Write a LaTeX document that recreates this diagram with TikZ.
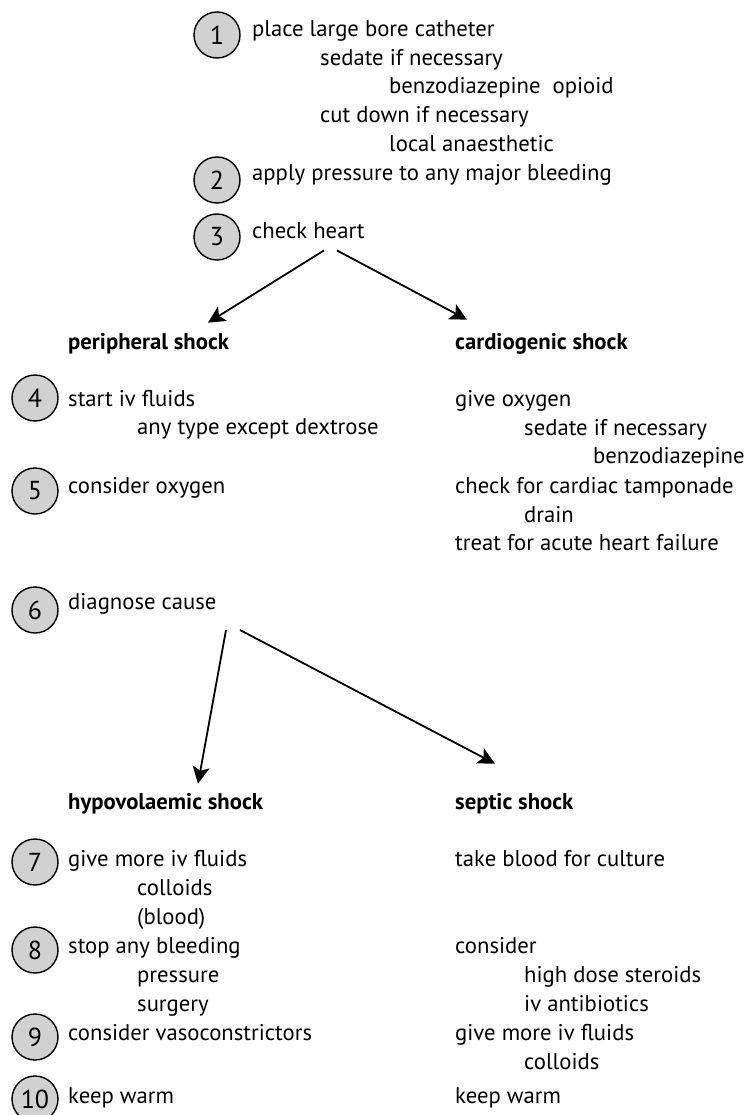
\documentclass[tikz,border=0pt]{standalone}
\usepackage{fontspec}
\setmainfont{PT Sans}
\usetikzlibrary{arrows.meta}

\begin{document}
\begin{tikzpicture}[x=1pt,y=-1pt,font=\fontsize{22.7}{28.8}\selectfont]
\useasboundingbox (0,0) rectangle (747,1115);

\begin{scope}[every node/.style={circle,draw=black,line width=1.4pt,fill=black!18,minimum size=46pt,inner sep=0pt,font=\fontsize{26}{28}\selectfont}]
    \node (n1) at (217, 35) {1};
    \node (n2) at (217, 180) {2};
    \node (n3) at (217, 237) {3};
    \node (n4) at (35, 398) {4};
    \node (n5) at (35, 491) {5};
    \node (n6) at (35, 610) {6};
    \node (n7) at (35, 862) {7};
    \node (n8) at (35, 950) {8};
    \node (n9) at (35, 1037) {9};
    \node (n10) at (35, 1099) {10};
\end{scope}

% steps
\begin{scope}[every node/.style={anchor=base west,inner sep=0pt}]
    \node (place) at (252, 37) {place large bore catheter};
    \node (sed) at (320, 66) {sedate if necessary};
    \node (benz) at (389, 94) {benzodiazepine~~opioid};
    \node (cut) at (320, 123) {cut down if necessary};
    \node (local) at (389, 152) {local anaesthetic};
    \node (press) at (252, 181) {apply pressure to any major bleeding};
    \node (chk) at (252, 238) {check heart};

    \node (ivf) at (68, 406) {start iv fluids};
    \node (anyt) at (137, 434) {any type except dextrose};
    \node (oxy) at (68, 493) {consider oxygen};
    \node (diag) at (68, 609) {diagnose cause};

    \node (giveox) at (455, 406) {give oxygen};
    \node (sedc) at (524, 435) {sedate if necessary};
    \node (benzc) at (593, 463) {benzodiazepine};
    \node (tamp) at (455, 493) {check for cardiac tamponade};
    \node (drain) at (524, 522) {drain};
    \node (ahf) at (455, 550) {treat for acute heart failure};

    \node (morefl) at (68, 866) {give more iv fluids};
    \node (coll) at (137, 895) {colloids};
    \node (blood) at (137, 924) {(blood)};
    \node (stop) at (68, 953) {stop any bleeding};
    \node (presh) at (137, 982) {pressure};
    \node (surg) at (137, 1011) {surgery};
    \node (vaso) at (68, 1040) {consider vasoconstrictors};
    \node (warmh) at (68, 1103) {keep warm};

    \node (cult) at (455, 866) {take blood for culture};
    \node (cons) at (455, 953) {consider};
    \node (ster) at (524, 982) {high dose steroids};
    \node (anti) at (524, 1011) {iv antibiotics};
    \node (morefs) at (455, 1040) {give more iv fluids};
    \node (colls) at (524, 1069) {colloids};
    \node (warms) at (455, 1103) {keep warm};
\end{scope}

% kinds of shock
\begin{scope}[every node/.style={anchor=base west,inner sep=0pt,font=\fontsize{22.7}{28.8}\selectfont\bfseries}]
    \node (peri) at (68, 349) {peripheral shock};
    \node (card) at (455, 349) {cardiogenic shock};
    \node (hypo) at (68, 809) {hypovolaemic shock};
    \node (sept) at (455, 809) {septic shock};
\end{scope}

\begin{scope}[>={Stealth[length=17pt,width=17pt,inset=4pt]},
              every edge/.style={draw=black,line width=1.8pt}
]
    \path [->] ([xshift=72pt,yshift=-12pt]chk.south west) edge ([xshift=140pt,yshift=10pt]peri.north west);
    \path [->] ([xshift=85pt,yshift=-12pt]chk.south west) edge ([xshift=12pt,yshift=13pt]card.north west);
    \path [->] ([xshift=158pt,yshift=-16pt]diag.south west) edge ([xshift=130pt,yshift=9pt]hypo.north west);
    \path [->] ([xshift=172pt,yshift=-16pt]diag.south west) edge ([xshift=40pt,yshift=29pt]sept.north west);
\end{scope}

\end{tikzpicture}
\end{document}
